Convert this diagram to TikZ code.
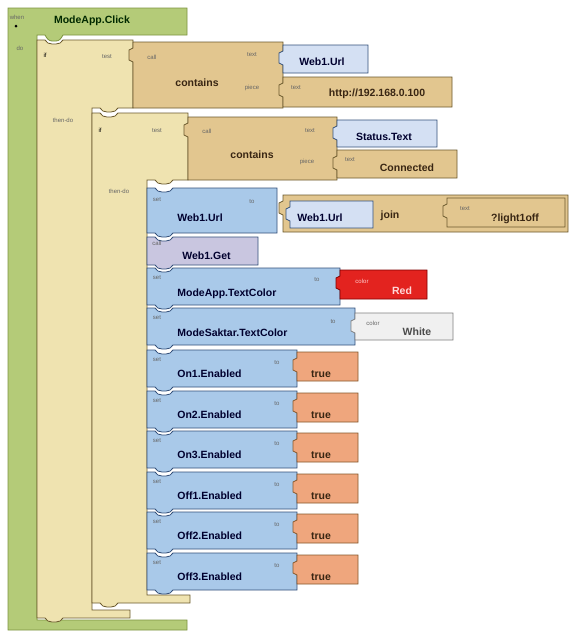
\documentclass[tikz,border=0pt]{standalone}
\usepackage{fontspec}
\setmainfont{Liberation Sans}

\definecolor{evtfill}{HTML}{B4CB78}
\definecolor{evtline}{HTML}{7D9440}
\definecolor{iffill}{HTML}{EFE3B0}
\definecolor{ifline}{HTML}{6B5A2E}
\definecolor{callfill}{HTML}{E2C68F}
\definecolor{getfill}{HTML}{D4E0F3}
\definecolor{setfill}{HTML}{A9C9E9}
\definecolor{setline}{HTML}{34507A}
\definecolor{webfill}{HTML}{C9C6E0}
\definecolor{redfill}{HTML}{E3231F}
\definecolor{truefill}{HTML}{EFA67D}

% statement block: x, y, width, height, style (notch on top, tab below)
\newcommand{\stmtblock}[5]{%
  \filldraw[#5] (#1,#2) -- ++(8,0) to[out=-60,in=180] ++(7,4) -- ++(4,0)
    to[out=0,in=-120] ++(7,-4)
    -- ({#1+#3},#2) -- ++(0,#4) -- ({#1+26},{#2+#4}) to[out=-120,in=0] ++(-7,4)
    -- ++(-4,0) to[out=180,in=-60] ++(-7,-4) -- (#1,{#2+#4}) -- cycle;}
% value block: x, y, width, height, style (plug on the left)
\newcommand{\valblock}[5]{%
  \filldraw[#5] (#1,#2) -- ({#1+#3},#2) -- ++(0,#4) -- (#1,{#2+#4})
    -- ++(0,{20-#4}) -- ++(-4,-2) -- ++(0,-10) -- ++(4,-2) -- cycle;}

\begin{document}
\begin{tikzpicture}[x=1pt,y=-1pt,line width=0.8pt,
  evt/.style={fill=evtfill,draw=evtline},
  ctl/.style={fill=iffill,draw=ifline},
  callb/.style={fill=callfill,draw=ifline},
  getb/.style={fill=getfill,draw=setline},
  setb/.style={fill=setfill,draw=setline},
  webb/.style={fill=webfill,draw=setline},
  redb/.style={fill=redfill,draw=red!50!black},
  whiteb/.style={fill=white!94!black,draw=black!50},
  trueb/.style={fill=truefill,draw=brown!70!black},
  tag/.style={inner sep=0pt,font=\fontsize{6}{7}\selectfont,text=black!60},
  lbl/.style={inner sep=0pt,font=\fontsize{10.5}{12}\selectfont\bfseries,text=black!70!blue!60!black},
  tanlbl/.style={lbl,text=black!70!brown}]
\useasboundingbox (0,0) rectangle (571,633);
\fill[white] (0,0) rectangle (571,633);

% when ... do
\filldraw[evt] (8,8) -- (187,8) -- (187,35) -- (63,35) to[out=-120,in=0] ++(-7,6)
  -- ++(-4,0) to[out=180,in=-60] ++(-7,-6) -- (37,35) -- (37,620) -- (187,620)
  -- (187,630) -- (8,630) -- cycle;
\node[tag] (when) at (17,17) {when};
\fill (16,26) circle (1.5);
\node[lbl,text=black!60!green!40!black] (click) at (92,21) {ModeApp.Click};
\node[tag] (do) at (20,48) {do};

% outer if
\filldraw[ctl] (37,40) -- ++(8,0) to[out=-60,in=180] ++(7,4) -- ++(4,0)
  to[out=0,in=-120] ++(7,-4) -- (133,40)
  -- (133,108) -- (118,108) to[out=-120,in=0] ++(-7,4) -- ++(-4,0)
  to[out=180,in=-60] ++(-7,-4) -- (92,108)
  -- (92,610) -- (130,610) -- (130,618) -- (63,618) to[out=-120,in=0] ++(-7,4)
  -- ++(-4,0) to[out=180,in=-60] ++(-7,-4) -- (37,618) -- cycle;
\node[tag,text=black] (if1) at (45,55) {if};
\node[tag] (test1) at (107,57) {test};
\node[tag] (then1) at (63,120) {then-do};

\valblock{133}{42}{150}{66}{callb}
\node[tag] (call1) at (152,57) {call};
\node[tanlbl] (contains1) at (197,83) {contains};
\node[tag] (text1) at (252,55) {text};
\node[tag] (piece1) at (252,88) {piece};
\valblock{283}{45}{85}{28}{getb}
\node[lbl] (url1) at (322,62) {Web1.Url};
\valblock{283}{77}{169}{30}{callb}
\node[tag] (text2) at (296,88) {text};
\node[tanlbl] (ip) at (377,94) {http://192.168.0.100};

% nested if
\filldraw[ctl] (92,113) -- ++(8,0) to[out=-60,in=180] ++(7,4) -- ++(4,0)
  to[out=0,in=-120] ++(7,-4) -- (188,113)
  -- (188,180) -- (173,180) to[out=-120,in=0] ++(-7,4) -- ++(-4,0)
  to[out=180,in=-60] ++(-7,-4) -- (147,180)
  -- (147,595) -- (190,595) -- (190,603) -- (118,603) to[out=-120,in=0] ++(-7,4)
  -- ++(-4,0) to[out=180,in=-60] ++(-7,-4) -- (92,603) -- cycle;
\node[tag,text=black] (if2) at (100,130) {if};
\node[tag] (test2) at (157,131) {test};
\node[tag] (then2) at (119,191) {then-do};

\valblock{188}{117}{149}{63}{callb}
\node[tag] (call2) at (207,131) {call};
\node[tanlbl] (contains2) at (252,155) {contains};
\node[tag] (text3) at (310,131) {text};
\node[tag] (piece2) at (307,162) {piece};
\valblock{337}{120}{100}{27}{getb}
\node[lbl] (status) at (384,137) {Status.Text};
\valblock{337}{150}{120}{28}{callb}
\node[tag] (text4) at (350,160) {text};
\node[tanlbl] (conn) at (407,168) {Connected};

% set Web1.Url
\stmtblock{147}{188}{130}{45}{setb}
\node[tag] (set1) at (157,200) {set};
\node[tag] (to1) at (252,202) {to};
\node[lbl,anchor=west] (urlset) at (177,218) {Web1.Url};
\valblock{283}{195}{285}{37}{callb}
\valblock{290}{201}{83}{27}{getb}
\node[lbl] (urlget) at (320,218) {Web1.Url};
\node[tanlbl] (join) at (390,216) {join};
\valblock{447}{198}{118}{29}{callb}
\node[tag] (text5) at (465,209) {text};
\node[tanlbl] (light) at (515,219) {?light1off};

% call Web1.Get
\stmtblock{147}{237}{111}{28}{webb}
\node[tag] (call3) at (157,243) {call};
\node[lbl,anchor=west] (get) at (182,256) {Web1.Get};

% colours
\stmtblock{147}{268}{193}{37}{setb}
\node[tag] (set2) at (157,278) {set};
\node[tag] (to2) at (317,280) {to};
\node[lbl,anchor=west] (appcol) at (177,294) {ModeApp.TextColor};
\valblock{340}{270}{87}{29}{redb}
\node[tag,text=white!80!red] (col1) at (362,281) {color};
\node[lbl,text=white!85!red] (red) at (402,291) {Red};

\stmtblock{147}{308}{208}{37}{setb}
\node[tag] (set3) at (157,318) {set};
\node[tag] (to3) at (333,322) {to};
\node[lbl,anchor=west] (saktarcol) at (177,333) {ModeSaktar.TextColor};
\valblock{355}{313}{98}{27}{whiteb}
\node[tag] (col2) at (373,323) {color};
\node[lbl,text=black!70] (white) at (417,332) {White};

% enabled flags
\stmtblock{147}{350}{150}{37}{setb}
\node[tag] (set4) at (157,360) {set};
\node[tag] (to4) at (277,363) {to};
\node[lbl,anchor=west] (on1) at (177,374) {On1.Enabled};
\valblock{297}{352}{61}{29}{trueb}
\node[tanlbl] (true1) at (321,374) {true};

\stmtblock{147}{391}{150}{37}{setb}
\node[tag] (set5) at (157,401) {set};
\node[tag] (to5) at (277,404) {to};
\node[lbl,anchor=west] (on2) at (177,415) {On2.Enabled};
\valblock{297}{393}{61}{29}{trueb}
\node[tanlbl] (true2) at (321,415) {true};

\stmtblock{147}{431}{150}{37}{setb}
\node[tag] (set6) at (157,441) {set};
\node[tag] (to6) at (277,444) {to};
\node[lbl,anchor=west] (on3) at (177,455) {On3.Enabled};
\valblock{297}{433}{61}{29}{trueb}
\node[tanlbl] (true3) at (321,455) {true};

\stmtblock{147}{472}{150}{37}{setb}
\node[tag] (set7) at (157,482) {set};
\node[tag] (to7) at (277,485) {to};
\node[lbl,anchor=west] (off1) at (177,496) {Off1.Enabled};
\valblock{297}{474}{61}{29}{trueb}
\node[tanlbl] (true4) at (321,496) {true};

\stmtblock{147}{512}{150}{37}{setb}
\node[tag] (set8) at (157,522) {set};
\node[tag] (to8) at (277,525) {to};
\node[lbl,anchor=west] (off2) at (177,536) {Off2.Enabled};
\valblock{297}{514}{61}{29}{trueb}
\node[tanlbl] (true5) at (321,536) {true};

\stmtblock{147}{553}{150}{37}{setb}
\node[tag] (set9) at (157,563) {set};
\node[tag] (to9) at (277,566) {to};
\node[lbl,anchor=west] (off3) at (177,577) {Off3.Enabled};
\valblock{297}{555}{61}{29}{trueb}
\node[tanlbl] (true6) at (321,577) {true};
\end{tikzpicture}
\end{document}
